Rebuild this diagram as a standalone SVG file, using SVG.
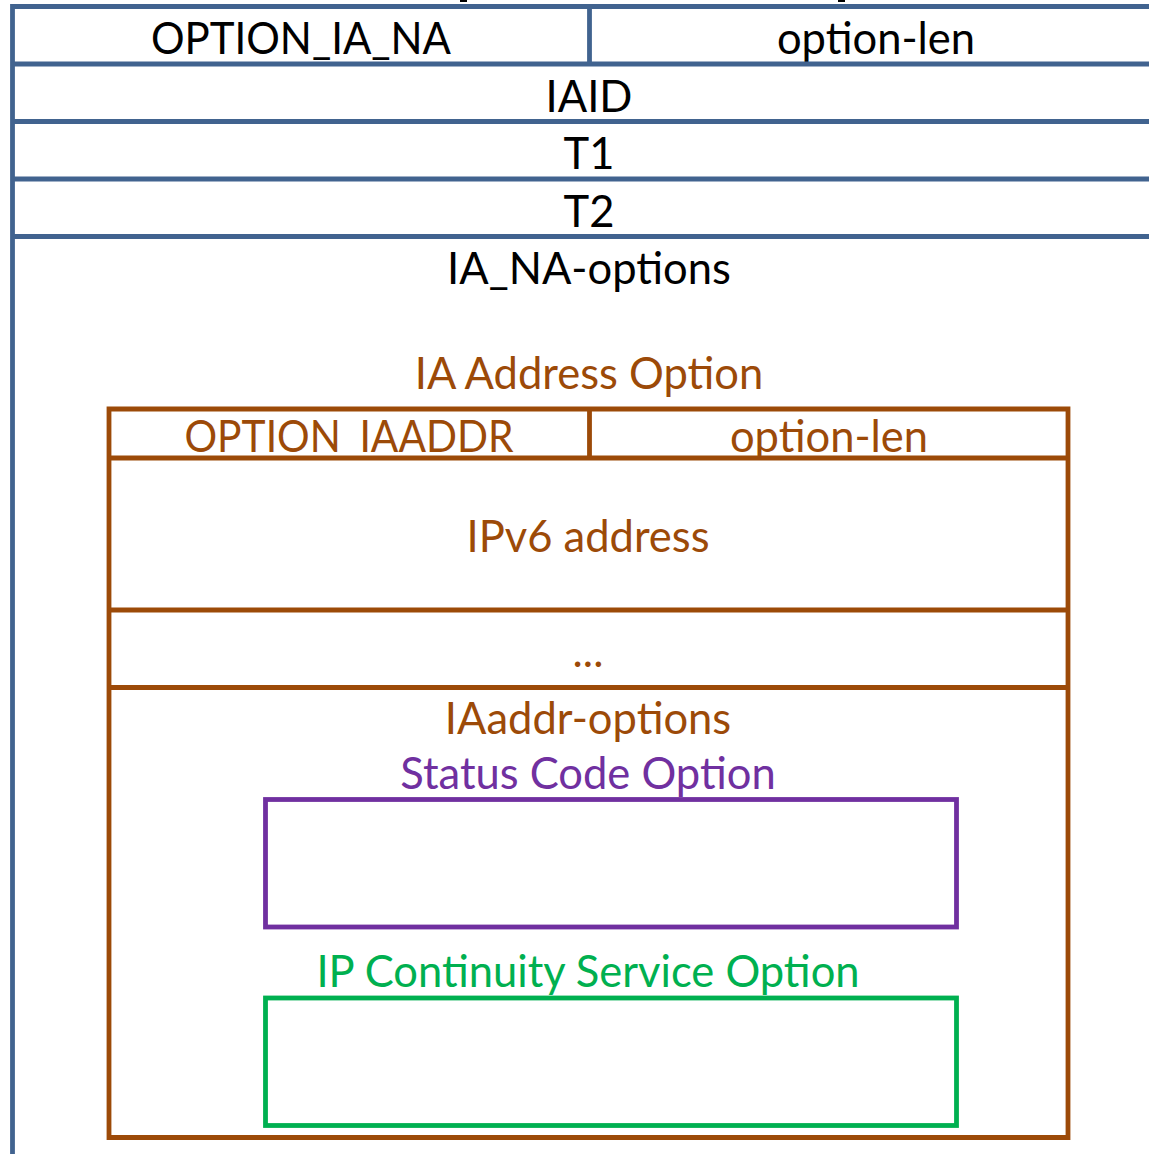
<svg xmlns="http://www.w3.org/2000/svg" width="1149" height="1154" viewBox="0 0 1149 1154">
<style>
text{font-family:Lato,"Open Sans","Liberation Sans",sans-serif;font-size:43.5px;text-anchor:middle}
.b{fill:#000}
.o{fill:#9c4a08}
.p{fill:#7030a0}
.g{fill:#00b050}
.bl{stroke:#41638f;stroke-width:4.8;fill:none}
.ol{stroke:#9c4a08;stroke-width:4.8;fill:none}
</style>
<defs>
<clipPath id="cellclip"><rect x="109" y="409" width="480" height="44"/></clipPath>
</defs>
<rect x="460" y="0" width="7" height="2" fill="#000"/>
<rect x="838" y="0" width="7" height="2" fill="#000"/>
<g id="ia_na">
<text class="b" x="301" y="54" textLength="300" lengthAdjust="spacingAndGlyphs">OPTION_IA_NA</text>
<text class="b" x="876" y="54">option-len</text>
<text class="b" x="589" y="112">IAID</text>
<text class="b" x="589" y="169">T1</text>
<text class="b" x="589" y="227">T2</text>
<text class="b" x="589" y="284">IA_NA-options</text>
<path class="bl" d="M12.5 1154V6.5H1149M12.5 64H1149M12.5 121.5H1149M12.5 179H1149M12.5 236.5H1149M589.5 6.5V64"/>
</g>
<g id="ia_address">
<text class="o" x="589" y="389">IA Address Option</text>
<text class="o" x="349" y="452" textLength="329" lengthAdjust="spacingAndGlyphs" clip-path="url(#cellclip)">OPTION_IAADDR</text>
<text class="o" x="829" y="452">option-len</text>
<text class="o" x="588" y="552">IPv6 address</text>
<text class="o" x="588" y="667">...</text>
<text class="o" x="588" y="734">IAaddr-options</text>
<path class="ol" d="M109 409H1068V1137.5H109ZM109 458H1068M109 610H1068M109 687.5H1068M589.5 409V458"/>
</g>
<g id="status_code">
<text class="p" x="588" y="789">Status Code Option</text>
<rect x="265.5" y="799.5" width="691" height="127.5" fill="none" stroke="#7030a0" stroke-width="4.8"/>
</g>
<g id="ip_continuity">
<text class="g" x="588" y="987">IP Continuity Service Option</text>
<rect x="265.5" y="998" width="691" height="127.5" fill="none" stroke="#00b050" stroke-width="4.8"/>
</g>
<g id="connectors"/>
</svg>
